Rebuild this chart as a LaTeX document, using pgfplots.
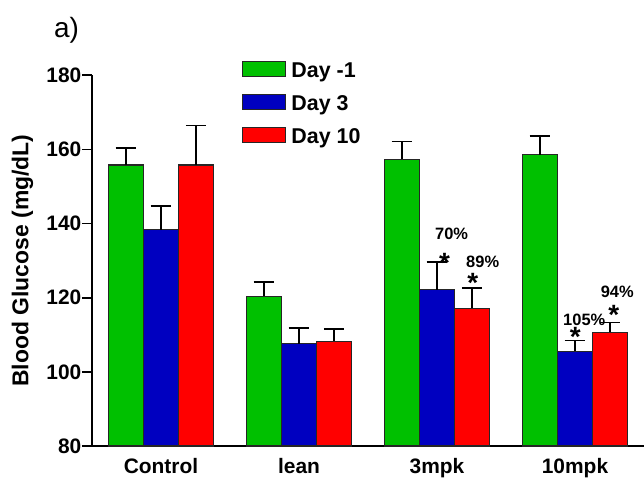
\documentclass[border=0pt]{standalone}
\usepackage{fontspec}
\setmainfont{Liberation Sans}
\usepackage{pgfplots}
\pgfplotsset{compat=1.18}
\usetikzlibrary{calc}
\definecolor{cgreen}{RGB}{0,192,0}
\definecolor{cblue}{RGB}{0,0,192}
\definecolor{cred}{RGB}{255,0,0}
\begin{document}
\begin{tikzpicture}
\begin{axis}[
  name=ax,
  scale only axis,
  width=552bp, height=370.7bp,
  ymin=80, ymax=180,
  xmin=-0.5, xmax=3.5,
  ytick={80,100,...,180},
  xtick={0,1,2,3},
  xticklabels={Control,lean,3mpk,10mpk},
  axis x line*=bottom, axis y line*=left,
  axis line style={line width=1.8bp,-},
  xtick style={draw=none},
  ytick pos=left,
  tick align=outside,
  major tick length=10bp,
  ytick style={line width=1.8bp,black},
  ticklabel style={font=\bfseries\fontsize{21}{21}\selectfont},
  /pgf/number format/assume math mode=true,
  yticklabel style={inner sep=0.5bp},
  xticklabel style={yshift=1bp},
  ylabel={Blood Glucose (mg/dL)},
  ylabel style={font=\bfseries\fontsize{23}{23}\selectfont, at={(axis description cs:-0.126,0.5)}, anchor=center},
  clip=false,
  ybar, bar width=0.254,
  every axis plot/.append style={draw=black!85, line width=1.1bp},
  error bars/y dir=plus, error bars/y explicit,
  error bars/error bar style={line width=1.5bp, black},
  error bars/error mark options={line width=1.5bp, mark size=10.3bp, rotate=90, black},
  legend cell align=left,
  legend style={at={(axis description cs:0.272,1.040)}, anchor=north west, draw=none, fill=none, inner sep=0pt, row sep=12.5bp, font=\bfseries\fontsize{21.5}{21.5}\selectfont, nodes={inner sep=2bp}, /tikz/every odd column/.append style={column sep=3bp}},
  legend image code/.code={\draw[#1,line width=1.1bp] (0bp,-5.5bp) rectangle (43bp,9.5bp);},
]
\addplot[fill=cgreen, bar shift=-0.254] coordinates {(0,155.8) +- (0,4.6) (1,120.4) +- (0,3.9) (2,157.4) +- (0,4.7) (3,158.6) +- (0,5.0)};
\addplot[fill=cblue, bar shift=0] coordinates {(0,138.4) +- (0,6.3) (1,107.6) +- (0,4.3) (2,122.2) +- (0,7.5) (3,105.6) +- (0,2.9)};
\addplot[fill=cred, bar shift=0.254] coordinates {(0,155.8) +- (0,10.6) (1,108.2) +- (0,3.3) (2,117.1) +- (0,5.5) (3,110.7) +- (0,2.6)};
\legend{Day -1, Day 3, Day 10}
\node[font=\bfseries\fontsize{16.5}{16.5}\selectfont] at (axis cs:2.106,137.1) {70\%};
\node[font=\bfseries\fontsize{16.5}{16.5}\selectfont] at (axis cs:2.331,129.6) {89\%};
\node[font=\bfseries\fontsize{16.5}{16.5}\selectfont] at (axis cs:3.306,121.6) {94\%};
\node[font=\bfseries\fontsize{16.5}{16.5}\selectfont] at (axis cs:3.067,114.1) {105\%};
\node[font=\bfseries\fontsize{28}{28}\selectfont, anchor=base, yshift=-16bp, inner sep=0pt] at (axis cs:2.054,131.0) {*};
\node[font=\bfseries\fontsize{28}{28}\selectfont, anchor=base, yshift=-16bp, inner sep=0pt] at (axis cs:2.26,125.6) {*};
\node[font=\bfseries\fontsize{28}{28}\selectfont, anchor=base, yshift=-16bp, inner sep=0pt] at (axis cs:3.281,117.1) {*};
\node[font=\bfseries\fontsize{28}{28}\selectfont, anchor=base, yshift=-16bp, inner sep=0pt] at (axis cs:3.003,111.2) {*};
\node[font=\fontsize{28}{28}\selectfont] at (axis description cs:-0.046,1.122) {a)};
\end{axis}
\pgfresetboundingbox
\path ($(ax.south west)+(-92bp,-31bp)$) rectangle ($(ax.north east)+(0bp,75.3bp)$);
\end{tikzpicture}
\end{document}
